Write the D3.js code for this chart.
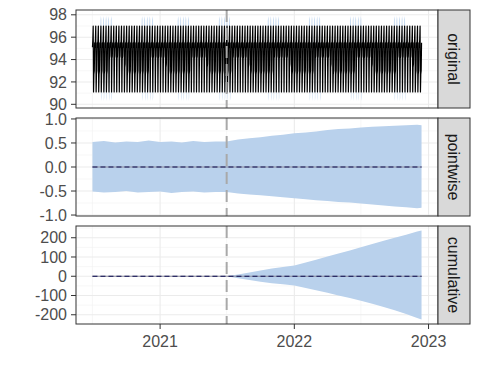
<!DOCTYPE html>
<html>
<head>
<meta charset="utf-8">
<script src="https://d3js.org/d3.v7.min.js"></script>
<style>
  body { margin: 0; background: #fff; }
  text { font-family: "Liberation Sans", Arial, sans-serif; }
</style>
</head>
<body>
<div id="chart"></div>
<script>
// ---- data ----
const startDate = "2020-07-01";
const nWeeks = 128;
const interventionDate = "2021-07-01";

// one typical week of the observed series; days 4 and 5 are the mid-week dip
const weekPattern = [95.1, 95.8, 97.0, 91.1, null, null, 95.5];
// dip levels for stretches of weeks: [first week, day-4 level, day-5 level]
const dipSegments = [
  [0, 92.7, 93.0], [6, 94.1, 94.3], [12, 93.3, 93.6], [13, 92.7, 93.0],
  [22, 94.1, 94.3], [28, 93.3, 93.6], [29, 92.7, 93.0],
  [38, 94.1, 94.3], [44, 93.3, 93.6], [45, 92.7, 93.0],
  [54, 94.1, 94.3], [60, 93.3, 93.6], [61, 92.7, 93.0],
  [70, 94.1, 94.3], [76, 93.3, 93.6], [77, 92.7, 93.0],
  [86, 94.1, 94.3], [92, 93.3, 93.6], [93, 92.7, 93.0],
  [102, 94.1, 94.3], [108, 93.3, 93.6], [109, 92.7, 93.0],
  [118, 94.1, 94.3], [124, 93.3, 93.6], [125, 92.7, 93.0]
];
// weeks where the prediction interval sticks out past the spikes
const wideWeeks = [[3, 7], [19, 23], [33, 37], [49, 53], [68, 72], [84, 88], [100, 104], [117, 121]];
// interval half width around the observed value on ordinary days
const bandHalf = 0.05;
// interval bounds per weekday in those weeks (null = ordinary)
const wideHi = [null, 97.5, 97.9, 97.6, null, null, null];
const wideLo = [null, 97.0, 96.9, 90.3, 90.6, null, null];

// pointwise effect interval, monthly
const monthDates = ["2020-07-01","2020-08-01","2020-09-01","2020-10-01","2020-11-01","2020-12-01",
  "2021-01-01","2021-02-01","2021-03-01","2021-04-01","2021-05-01","2021-06-01",
  "2021-07-01","2021-08-01","2021-09-01","2021-10-01","2021-11-01","2021-12-01",
  "2022-01-01","2022-02-01","2022-03-01","2022-04-01","2022-05-01","2022-06-01",
  "2022-07-01","2022-08-01","2022-09-01","2022-10-01","2022-11-01","2022-12-01","2022-12-13"];
const pointUpper = [0.52,0.54,0.51,0.53,0.52,0.55,0.52,0.53,0.51,0.54,0.52,0.53,
  0.53,0.57,0.60,0.62,0.65,0.67,0.70,0.72,0.74,0.77,0.79,0.80,0.82,0.84,0.85,0.86,0.87,0.88,0.87];
const pointLower = [-0.51,-0.53,-0.52,-0.50,-0.53,-0.52,-0.51,-0.54,-0.52,-0.51,-0.53,-0.52,
  -0.52,-0.55,-0.57,-0.59,-0.61,-0.63,-0.65,-0.67,-0.69,-0.71,-0.73,-0.74,-0.76,-0.78,-0.80,-0.82,-0.84,-0.86,-0.85];
const pointMean = monthDates.map(() => 0);

// cumulative effect interval
const cumDates = ["2020-07-01","2021-07-01","2021-08-01","2021-09-01","2021-10-01","2021-11-01","2021-12-01",
  "2022-01-01","2022-02-01","2022-03-01","2022-04-01","2022-05-01","2022-06-01",
  "2022-07-01","2022-08-01","2022-09-01","2022-10-01","2022-11-01","2022-12-01","2022-12-13"];
const cumUpper = [0,0,9,19,30,40,48,56,72,86,102,118,134,151,167,184,200,216,232,238];
const cumLower = [0,0,-10,-19,-28,-36,-42,-48,-61,-73,-86,-100,-113,-127,-143,-160,-176,-196,-217,-225];
const cumMean = cumDates.map(() => 0);

const panelNames = ["original", "pointwise", "cumulative"];

// ---- build ----
const parse = d3.timeParse("%Y-%m-%d");
const t0 = parse(startDate);
const tInt = parse(interventionDate);

const daily = [];
for (let w = 0; w < nWeeks; w++) {
  const seg = dipSegments.filter(s => s[0] <= w).pop();
  const wide = wideWeeks.some(([a, b]) => w >= a && w <= b);
  for (let d = 0; d < 7; d++) {
    const v = d === 4 ? seg[1] : d === 5 ? seg[2] : weekPattern[d];
    const hi = wide && wideHi[d] != null ? wideHi[d] : v + bandHalf;
    const lo = wide && wideLo[d] != null ? wideLo[d] : v - bandHalf;
    daily.push({ date: d3.timeDay.offset(t0, w * 7 + d), v, lo, hi });
  }
}

const W = 480, H = 384;
const left = 76, right = 438, stripW = 32;
const fs = 16;
const panels = [
  { top: 10, bottom: 108, domain: [89.67, 98.43] },
  { top: 118, bottom: 216, domain: [-1.02, 1.02] },
  { top: 226, bottom: 324, domain: [-248, 261] }
];

const ext = d3.extent(daily, d => d.date);
const span = ext[1] - ext[0];
const x = d3.scaleTime()
  .domain([new Date(+ext[0] - span * 0.05), new Date(+ext[1] + span * 0.05)])
  .range([left, right]);

const svg = d3.select("#chart").append("svg")
  .attr("width", W).attr("height", H);

const fmtNum = [d3.format("d"), d3.format(".1f"), d3.format("d")];
const xMajor = d3.timeYear.range(x.domain()[0], x.domain()[1]);
const xMinor = d3.timeMonth.range(x.domain()[0], x.domain()[1]).filter(d => d.getMonth() === 6);

const bandFill = "#b9d1ec";

panels.forEach((p, i) => {
  const y = d3.scaleLinear().domain(p.domain).range([p.bottom, p.top]);
  const g = svg.append("g");
  const clipId = "clip" + i;
  g.append("clipPath").attr("id", clipId).append("rect")
    .attr("x", left).attr("y", p.top).attr("width", right - left).attr("height", p.bottom - p.top);

  const major = y.ticks(5);
  const step = major[1] - major[0];
  const minor = [major[0] - step / 2, ...major.map(m => m + step / 2)]
    .filter(m => m > p.domain[0] && m < p.domain[1]);

  // grid
  g.selectAll(".hmin").data(minor).join("line")
    .attr("x1", left).attr("x2", right)
    .attr("y1", d => y(d)).attr("y2", d => y(d))
    .attr("stroke", "#f2f2f2").attr("stroke-width", 0.6);
  g.selectAll(".vmin").data(xMinor).join("line")
    .attr("x1", d => x(d)).attr("x2", d => x(d))
    .attr("y1", p.top).attr("y2", p.bottom)
    .attr("stroke", "#f2f2f2").attr("stroke-width", 0.6);
  g.selectAll(".hmaj").data(major).join("line")
    .attr("x1", left).attr("x2", right)
    .attr("y1", d => y(d)).attr("y2", d => y(d))
    .attr("stroke", "#ebebeb").attr("stroke-width", 1.1);
  g.selectAll(".vmaj").data(xMajor).join("line")
    .attr("x1", d => x(d)).attr("x2", d => x(d))
    .attr("y1", p.top).attr("y2", p.bottom)
    .attr("stroke", "#ebebeb").attr("stroke-width", 1.1);

  const body = g.append("g").attr("clip-path", `url(#${clipId})`);

  if (i === 0) {
    body.append("path").datum(daily)
      .attr("d", d3.area().x(d => x(d.date)).y0(d => y(d.lo)).y1(d => y(d.hi)))
      .attr("fill", bandFill);
    body.append("path").datum(daily)
      .attr("d", d3.line().x(d => x(d.date)).y(d => y(d.v)))
      .attr("fill", "none").attr("stroke", "#000").attr("stroke-width", 1.2)
      .attr("stroke-linejoin", "round");
  } else {
    const dates = (i === 1 ? monthDates : cumDates).map(parse);
    const up = i === 1 ? pointUpper : cumUpper;
    const lo = i === 1 ? pointLower : cumLower;
    const mean = i === 1 ? pointMean : cumMean;
    body.append("path").datum(dates)
      .attr("d", d3.area().x(d => x(d)).y0((d, k) => y(lo[k])).y1((d, k) => y(up[k])))
      .attr("fill", bandFill);
    body.append("path").datum(dates)
      .attr("d", d3.line().x(d => x(d)).y((d, k) => y(mean[k])))
      .attr("fill", "none").attr("stroke", "#8a8a9a").attr("stroke-width", 1);
    body.append("path").datum(dates)
      .attr("d", d3.line().x(d => x(d)).y((d, k) => y(mean[k])))
      .attr("fill", "none").attr("stroke", "#0a0a50").attr("stroke-width", 1.2)
      .attr("stroke-dasharray", "5,3");
  }

  // intervention
  body.append("line")
    .attr("x1", x(tInt)).attr("x2", x(tInt))
    .attr("y1", p.top).attr("y2", p.bottom)
    .attr("stroke", "#a9a9a9").attr("stroke-width", 2)
    .attr("stroke-dasharray", "12,6");

  // border
  g.append("rect")
    .attr("x", left).attr("y", p.top).attr("width", right - left).attr("height", p.bottom - p.top)
    .attr("fill", "none").attr("stroke", "#333").attr("stroke-width", 1);

  // y axis
  g.selectAll(".yt").data(major).join("line")
    .attr("x1", left - 5).attr("x2", left)
    .attr("y1", d => y(d)).attr("y2", d => y(d))
    .attr("stroke", "#333").attr("stroke-width", 1);
  g.selectAll(".yl").data(major).join("text")
    .attr("x", left - 9).attr("y", d => y(d)).attr("dy", "0.35em")
    .attr("text-anchor", "end").attr("fill", "#4d4d4d").attr("font-size", fs)
    .text(d => fmtNum[i](d).replace("\u2212", "-"));

  // strip
  g.append("rect")
    .attr("x", right).attr("y", p.top).attr("width", stripW).attr("height", p.bottom - p.top)
    .attr("fill", "#d9d9d9").attr("stroke", "#333").attr("stroke-width", 1);
  g.append("text")
    .attr("transform", `translate(${right + stripW / 2},${(p.top + p.bottom) / 2}) rotate(90)`)
    .attr("text-anchor", "middle").attr("dy", "0.35em")
    .attr("fill", "#1a1a1a").attr("font-size", fs)
    .text(panelNames[i]);
});

// x axis under the last panel
const last = panels[2];
svg.selectAll(".xt").data(xMajor).join("line")
  .attr("x1", d => x(d)).attr("x2", d => x(d))
  .attr("y1", last.bottom).attr("y2", last.bottom + 5)
  .attr("stroke", "#333").attr("stroke-width", 1);
svg.selectAll(".xl").data(xMajor).join("text")
  .attr("x", d => x(d)).attr("y", last.bottom + 23)
  .attr("text-anchor", "middle").attr("fill", "#4d4d4d").attr("font-size", fs)
  .text(d3.timeFormat("%Y"));
</script>
</body>
</html>
